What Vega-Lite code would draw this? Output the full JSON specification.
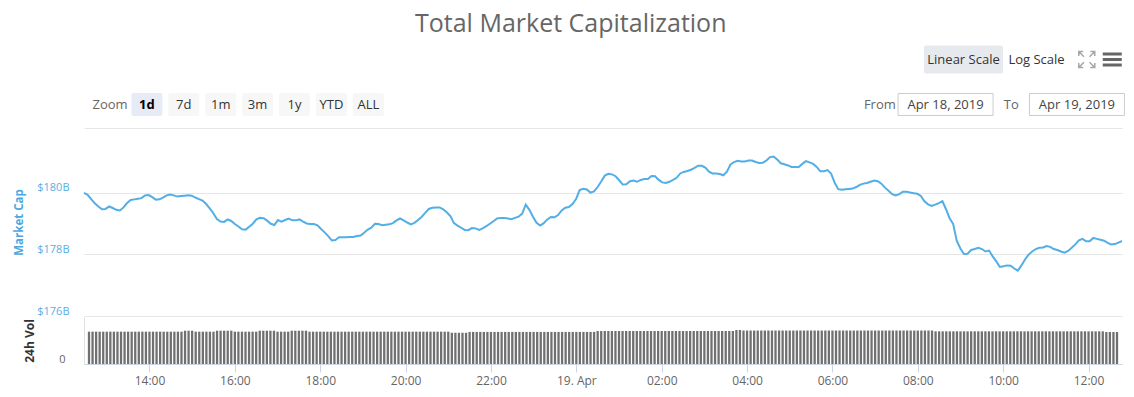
{
  "$schema": "https://vega.github.io/schema/vega-lite/v6.json",
  "padding": {"left": 13, "top": 12, "right": 10, "bottom": 5},
  "bounds": "flush",
  "spacing": 1,
  "title": {"text": "Total Market Capitalization", "fontSize": 25, "font": "Open Sans", "fontWeight": "normal", "color": "#666666", "anchor": "middle", "offset": 0},
  "config": {
    "font": "Open Sans",
    "view": {"stroke": null},
    "axis": {"labelFont": "Open Sans", "titleFont": "Open Sans"},
    "text": {"font": "Open Sans"}
  },
  "data": {"values": [
      {"t":"2019-04-18T12:35","c":179.99,"v":56.4},{"t":"2019-04-18T12:40","c":179.93,"v":56.4},{"t":"2019-04-18T12:45","c":179.79,"v":56.4},{"t":"2019-04-18T12:50","c":179.65,"v":56.4},{"t":"2019-04-18T12:55","c":179.55,"v":56.4},
      {"t":"2019-04-18T13:00","c":179.46,"v":56.4},{"t":"2019-04-18T13:05","c":179.47,"v":56.4},{"t":"2019-04-18T13:10","c":179.55,"v":56.4},{"t":"2019-04-18T13:15","c":179.50,"v":56.4},{"t":"2019-04-18T13:20","c":179.44,"v":56.4},{"t":"2019-04-18T13:25","c":179.42,"v":56.4},{"t":"2019-04-18T13:30","c":179.52,"v":56.4},{"t":"2019-04-18T13:35","c":179.66,"v":56.4},{"t":"2019-04-18T13:40","c":179.76,"v":56.4},{"t":"2019-04-18T13:45","c":179.78,"v":56.4},{"t":"2019-04-18T13:50","c":179.80,"v":56.4},{"t":"2019-04-18T13:55","c":179.82,"v":56.4},
      {"t":"2019-04-18T14:00","c":179.91,"v":56.4},{"t":"2019-04-18T14:05","c":179.92,"v":56.4},{"t":"2019-04-18T14:10","c":179.85,"v":56.4},{"t":"2019-04-18T14:15","c":179.77,"v":56.4},{"t":"2019-04-18T14:20","c":179.78,"v":56.4},{"t":"2019-04-18T14:25","c":179.84,"v":56.4},{"t":"2019-04-18T14:30","c":179.91,"v":56.4},{"t":"2019-04-18T14:35","c":179.94,"v":56.4},{"t":"2019-04-18T14:40","c":179.91,"v":56.4},{"t":"2019-04-18T14:45","c":179.87,"v":56.4},{"t":"2019-04-18T14:50","c":179.89,"v":58.1},{"t":"2019-04-18T14:55","c":179.90,"v":58.1},
      {"t":"2019-04-18T15:00","c":179.91,"v":58.1},{"t":"2019-04-18T15:05","c":179.90,"v":56.4},{"t":"2019-04-18T15:10","c":179.84,"v":56.4},{"t":"2019-04-18T15:15","c":179.79,"v":56.4},{"t":"2019-04-18T15:20","c":179.74,"v":56.4},{"t":"2019-04-18T15:25","c":179.63,"v":56.4},{"t":"2019-04-18T15:30","c":179.49,"v":56.4},{"t":"2019-04-18T15:35","c":179.33,"v":58.1},{"t":"2019-04-18T15:40","c":179.14,"v":58.1},{"t":"2019-04-18T15:45","c":179.06,"v":58.1},{"t":"2019-04-18T15:50","c":179.05,"v":58.1},{"t":"2019-04-18T15:55","c":179.13,"v":58.1},
      {"t":"2019-04-18T16:00","c":179.08,"v":56.4},{"t":"2019-04-18T16:05","c":178.98,"v":56.4},{"t":"2019-04-18T16:10","c":178.90,"v":56.4},{"t":"2019-04-18T16:15","c":178.81,"v":56.4},{"t":"2019-04-18T16:20","c":178.80,"v":56.4},{"t":"2019-04-18T16:25","c":178.89,"v":56.4},{"t":"2019-04-18T16:30","c":178.99,"v":56.4},{"t":"2019-04-18T16:35","c":179.13,"v":58.1},{"t":"2019-04-18T16:40","c":179.18,"v":58.1},{"t":"2019-04-18T16:45","c":179.17,"v":58.1},{"t":"2019-04-18T16:50","c":179.09,"v":58.1},{"t":"2019-04-18T16:55","c":178.99,"v":58.1},
      {"t":"2019-04-18T17:00","c":178.95,"v":56.4},{"t":"2019-04-18T17:05","c":179.11,"v":56.4},{"t":"2019-04-18T17:10","c":179.06,"v":56.4},{"t":"2019-04-18T17:15","c":179.11,"v":56.4},{"t":"2019-04-18T17:20","c":179.16,"v":58.1},{"t":"2019-04-18T17:25","c":179.10,"v":58.1},{"t":"2019-04-18T17:30","c":179.10,"v":58.1},{"t":"2019-04-18T17:35","c":179.13,"v":58.1},{"t":"2019-04-18T17:40","c":179.06,"v":58.1},{"t":"2019-04-18T17:45","c":179.00,"v":56.4},{"t":"2019-04-18T17:50","c":178.98,"v":56.4},{"t":"2019-04-18T17:55","c":178.98,"v":56.4},
      {"t":"2019-04-18T18:00","c":178.94,"v":56.4},{"t":"2019-04-18T18:05","c":178.82,"v":56.4},{"t":"2019-04-18T18:10","c":178.71,"v":56.4},{"t":"2019-04-18T18:15","c":178.59,"v":56.4},{"t":"2019-04-18T18:20","c":178.45,"v":56.4},{"t":"2019-04-18T18:25","c":178.46,"v":56.4},{"t":"2019-04-18T18:30","c":178.55,"v":56.4},{"t":"2019-04-18T18:35","c":178.55,"v":56.4},{"t":"2019-04-18T18:40","c":178.55,"v":56.4},{"t":"2019-04-18T18:45","c":178.56,"v":56.4},{"t":"2019-04-18T18:50","c":178.56,"v":56.4},{"t":"2019-04-18T18:55","c":178.59,"v":56.4},
      {"t":"2019-04-18T19:00","c":178.61,"v":56.4},{"t":"2019-04-18T19:05","c":178.70,"v":56.4},{"t":"2019-04-18T19:10","c":178.80,"v":56.4},{"t":"2019-04-18T19:15","c":178.86,"v":56.4},{"t":"2019-04-18T19:20","c":178.99,"v":56.4},{"t":"2019-04-18T19:25","c":178.98,"v":56.4},{"t":"2019-04-18T19:30","c":178.94,"v":56.4},{"t":"2019-04-18T19:35","c":178.96,"v":56.4},{"t":"2019-04-18T19:40","c":178.97,"v":56.4},{"t":"2019-04-18T19:45","c":179.01,"v":56.4},{"t":"2019-04-18T19:50","c":179.10,"v":56.4},{"t":"2019-04-18T19:55","c":179.16,"v":56.4},
      {"t":"2019-04-18T20:00","c":179.10,"v":56.4},{"t":"2019-04-18T20:05","c":179.03,"v":56.4},{"t":"2019-04-18T20:10","c":178.97,"v":56.4},{"t":"2019-04-18T20:15","c":179.02,"v":56.4},{"t":"2019-04-18T20:20","c":179.11,"v":56.4},{"t":"2019-04-18T20:25","c":179.21,"v":56.4},{"t":"2019-04-18T20:30","c":179.34,"v":56.4},{"t":"2019-04-18T20:35","c":179.47,"v":56.4},{"t":"2019-04-18T20:40","c":179.51,"v":56.4},{"t":"2019-04-18T20:45","c":179.52,"v":56.4},{"t":"2019-04-18T20:50","c":179.52,"v":56.4},{"t":"2019-04-18T20:55","c":179.46,"v":56.4},
      {"t":"2019-04-18T21:00","c":179.36,"v":56.4},{"t":"2019-04-18T21:05","c":179.24,"v":54.5},{"t":"2019-04-18T21:10","c":179.01,"v":54.5},{"t":"2019-04-18T21:15","c":178.93,"v":54.5},{"t":"2019-04-18T21:20","c":178.86,"v":54.5},{"t":"2019-04-18T21:25","c":178.79,"v":54.5},{"t":"2019-04-18T21:30","c":178.78,"v":56.0},{"t":"2019-04-18T21:35","c":178.85,"v":56.0},{"t":"2019-04-18T21:40","c":178.84,"v":56.0},{"t":"2019-04-18T21:45","c":178.79,"v":56.0},{"t":"2019-04-18T21:50","c":178.84,"v":56.0},{"t":"2019-04-18T21:55","c":178.91,"v":56.0},
      {"t":"2019-04-18T22:00","c":178.99,"v":56.0},{"t":"2019-04-18T22:05","c":179.07,"v":56.0},{"t":"2019-04-18T22:10","c":179.16,"v":56.0},{"t":"2019-04-18T22:15","c":179.18,"v":56.0},{"t":"2019-04-18T22:20","c":179.18,"v":56.0},{"t":"2019-04-18T22:25","c":179.16,"v":56.0},{"t":"2019-04-18T22:30","c":179.14,"v":56.0},{"t":"2019-04-18T22:35","c":179.18,"v":56.0},{"t":"2019-04-18T22:40","c":179.22,"v":56.0},{"t":"2019-04-18T22:45","c":179.32,"v":56.0},{"t":"2019-04-18T22:50","c":179.61,"v":56.0},{"t":"2019-04-18T22:55","c":179.44,"v":56.0},
      {"t":"2019-04-18T23:00","c":179.22,"v":56.0},{"t":"2019-04-18T23:05","c":179.02,"v":56.0},{"t":"2019-04-18T23:10","c":178.93,"v":56.0},{"t":"2019-04-18T23:15","c":179.01,"v":56.0},{"t":"2019-04-18T23:20","c":179.13,"v":56.0},{"t":"2019-04-18T23:25","c":179.21,"v":56.0},{"t":"2019-04-18T23:30","c":179.20,"v":56.0},{"t":"2019-04-18T23:35","c":179.27,"v":56.0},{"t":"2019-04-18T23:40","c":179.42,"v":56.0},{"t":"2019-04-18T23:45","c":179.51,"v":56.0},{"t":"2019-04-18T23:50","c":179.53,"v":56.0},{"t":"2019-04-18T23:55","c":179.63,"v":56.0},
      {"t":"2019-04-19T00:00","c":179.79,"v":56.0},{"t":"2019-04-19T00:05","c":180.08,"v":56.0},{"t":"2019-04-19T00:10","c":180.12,"v":56.0},{"t":"2019-04-19T00:15","c":180.10,"v":56.0},{"t":"2019-04-19T00:20","c":180.00,"v":56.0},{"t":"2019-04-19T00:25","c":180.04,"v":56.0},{"t":"2019-04-19T00:30","c":180.18,"v":57.6},{"t":"2019-04-19T00:35","c":180.36,"v":57.6},{"t":"2019-04-19T00:40","c":180.55,"v":57.6},{"t":"2019-04-19T00:45","c":180.61,"v":57.6},{"t":"2019-04-19T00:50","c":180.59,"v":57.6},{"t":"2019-04-19T00:55","c":180.53,"v":57.6},
      {"t":"2019-04-19T01:00","c":180.40,"v":57.6},{"t":"2019-04-19T01:05","c":180.26,"v":57.6},{"t":"2019-04-19T01:10","c":180.27,"v":57.6},{"t":"2019-04-19T01:15","c":180.37,"v":57.6},{"t":"2019-04-19T01:20","c":180.39,"v":57.6},{"t":"2019-04-19T01:25","c":180.35,"v":57.6},{"t":"2019-04-19T01:30","c":180.41,"v":57.6},{"t":"2019-04-19T01:35","c":180.44,"v":57.6},{"t":"2019-04-19T01:40","c":180.44,"v":57.6},{"t":"2019-04-19T01:45","c":180.54,"v":57.6},{"t":"2019-04-19T01:50","c":180.53,"v":57.6},{"t":"2019-04-19T01:55","c":180.41,"v":57.6},
      {"t":"2019-04-19T02:00","c":180.33,"v":57.6},{"t":"2019-04-19T02:05","c":180.31,"v":57.6},{"t":"2019-04-19T02:10","c":180.35,"v":57.6},{"t":"2019-04-19T02:15","c":180.41,"v":57.6},{"t":"2019-04-19T02:20","c":180.48,"v":57.6},{"t":"2019-04-19T02:25","c":180.62,"v":57.6},{"t":"2019-04-19T02:30","c":180.67,"v":57.6},{"t":"2019-04-19T02:35","c":180.70,"v":57.6},{"t":"2019-04-19T02:40","c":180.74,"v":57.6},{"t":"2019-04-19T02:45","c":180.80,"v":57.6},{"t":"2019-04-19T02:50","c":180.87,"v":57.6},{"t":"2019-04-19T02:55","c":180.87,"v":57.6},
      {"t":"2019-04-19T03:00","c":180.81,"v":57.6},{"t":"2019-04-19T03:05","c":180.68,"v":57.6},{"t":"2019-04-19T03:10","c":180.62,"v":57.6},{"t":"2019-04-19T03:15","c":180.62,"v":57.6},{"t":"2019-04-19T03:20","c":180.60,"v":57.6},{"t":"2019-04-19T03:25","c":180.56,"v":57.6},{"t":"2019-04-19T03:30","c":180.68,"v":57.6},{"t":"2019-04-19T03:35","c":180.91,"v":57.6},{"t":"2019-04-19T03:40","c":180.99,"v":57.6},{"t":"2019-04-19T03:45","c":181.03,"v":59.3},{"t":"2019-04-19T03:50","c":181.01,"v":59.3},{"t":"2019-04-19T03:55","c":181.01,"v":58.4},
      {"t":"2019-04-19T04:00","c":181.04,"v":58.4},{"t":"2019-04-19T04:05","c":181.04,"v":58.4},{"t":"2019-04-19T04:10","c":180.99,"v":58.4},{"t":"2019-04-19T04:15","c":180.96,"v":58.4},{"t":"2019-04-19T04:20","c":180.97,"v":58.4},{"t":"2019-04-19T04:25","c":181.04,"v":58.4},{"t":"2019-04-19T04:30","c":181.15,"v":58.4},{"t":"2019-04-19T04:35","c":181.17,"v":58.4},{"t":"2019-04-19T04:40","c":181.07,"v":58.4},{"t":"2019-04-19T04:45","c":180.95,"v":58.4},{"t":"2019-04-19T04:50","c":180.92,"v":58.4},{"t":"2019-04-19T04:55","c":180.88,"v":58.4},
      {"t":"2019-04-19T05:00","c":180.83,"v":58.4},{"t":"2019-04-19T05:05","c":180.83,"v":58.4},{"t":"2019-04-19T05:10","c":180.83,"v":58.4},{"t":"2019-04-19T05:15","c":180.93,"v":58.4},{"t":"2019-04-19T05:20","c":181.02,"v":58.4},{"t":"2019-04-19T05:25","c":180.98,"v":58.4},{"t":"2019-04-19T05:30","c":180.93,"v":58.4},{"t":"2019-04-19T05:35","c":180.83,"v":58.4},{"t":"2019-04-19T05:40","c":180.69,"v":58.4},{"t":"2019-04-19T05:45","c":180.69,"v":58.4},{"t":"2019-04-19T05:50","c":180.73,"v":58.4},{"t":"2019-04-19T05:55","c":180.62,"v":58.4},
      {"t":"2019-04-19T06:00","c":180.32,"v":58.4},{"t":"2019-04-19T06:05","c":180.11,"v":58.4},{"t":"2019-04-19T06:10","c":180.09,"v":58.4},{"t":"2019-04-19T06:15","c":180.11,"v":58.4},{"t":"2019-04-19T06:20","c":180.12,"v":58.4},{"t":"2019-04-19T06:25","c":180.13,"v":58.4},{"t":"2019-04-19T06:30","c":180.18,"v":58.4},{"t":"2019-04-19T06:35","c":180.25,"v":58.4},{"t":"2019-04-19T06:40","c":180.29,"v":58.4},{"t":"2019-04-19T06:45","c":180.31,"v":58.4},{"t":"2019-04-19T06:50","c":180.35,"v":58.4},{"t":"2019-04-19T06:55","c":180.39,"v":58.4},
      {"t":"2019-04-19T07:00","c":180.37,"v":58.4},{"t":"2019-04-19T07:05","c":180.29,"v":58.4},{"t":"2019-04-19T07:10","c":180.16,"v":58.4},{"t":"2019-04-19T07:15","c":180.06,"v":58.4},{"t":"2019-04-19T07:20","c":179.95,"v":58.4},{"t":"2019-04-19T07:25","c":179.91,"v":58.4},{"t":"2019-04-19T07:30","c":179.95,"v":58.4},{"t":"2019-04-19T07:35","c":180.03,"v":58.4},{"t":"2019-04-19T07:40","c":180.03,"v":58.4},{"t":"2019-04-19T07:45","c":180.00,"v":58.4},{"t":"2019-04-19T07:50","c":179.98,"v":58.4},{"t":"2019-04-19T07:55","c":179.96,"v":58.4},
      {"t":"2019-04-19T08:00","c":179.89,"v":58.4},{"t":"2019-04-19T08:05","c":179.72,"v":58.4},{"t":"2019-04-19T08:10","c":179.62,"v":58.4},{"t":"2019-04-19T08:15","c":179.57,"v":58.4},{"t":"2019-04-19T08:20","c":179.61,"v":58.4},{"t":"2019-04-19T08:25","c":179.66,"v":57.0},{"t":"2019-04-19T08:30","c":179.72,"v":57.0},{"t":"2019-04-19T08:35","c":179.46,"v":57.0},{"t":"2019-04-19T08:40","c":179.17,"v":57.0},{"t":"2019-04-19T08:45","c":178.98,"v":57.0},{"t":"2019-04-19T08:50","c":178.43,"v":57.0},{"t":"2019-04-19T08:55","c":178.19,"v":57.0},
      {"t":"2019-04-19T09:00","c":178.01,"v":57.0},{"t":"2019-04-19T09:05","c":178.02,"v":57.0},{"t":"2019-04-19T09:10","c":178.14,"v":57.0},{"t":"2019-04-19T09:15","c":178.17,"v":57.0},{"t":"2019-04-19T09:20","c":178.21,"v":57.0},{"t":"2019-04-19T09:25","c":178.17,"v":57.0},{"t":"2019-04-19T09:30","c":178.09,"v":57.0},{"t":"2019-04-19T09:35","c":178.12,"v":57.0},{"t":"2019-04-19T09:40","c":177.93,"v":57.0},{"t":"2019-04-19T09:45","c":177.77,"v":57.0},{"t":"2019-04-19T09:50","c":177.59,"v":57.0},{"t":"2019-04-19T09:55","c":177.61,"v":57.0},
      {"t":"2019-04-19T10:00","c":177.64,"v":57.0},{"t":"2019-04-19T10:05","c":177.63,"v":57.0},{"t":"2019-04-19T10:10","c":177.54,"v":57.0},{"t":"2019-04-19T10:15","c":177.47,"v":57.0},{"t":"2019-04-19T10:20","c":177.64,"v":57.0},{"t":"2019-04-19T10:25","c":177.83,"v":57.0},{"t":"2019-04-19T10:30","c":177.99,"v":57.0},{"t":"2019-04-19T10:35","c":178.09,"v":57.0},{"t":"2019-04-19T10:40","c":178.17,"v":57.0},{"t":"2019-04-19T10:45","c":178.21,"v":57.0},{"t":"2019-04-19T10:50","c":178.22,"v":57.0},{"t":"2019-04-19T10:55","c":178.27,"v":57.0},
      {"t":"2019-04-19T11:00","c":178.24,"v":57.0},{"t":"2019-04-19T11:05","c":178.17,"v":57.0},{"t":"2019-04-19T11:10","c":178.14,"v":57.0},{"t":"2019-04-19T11:15","c":178.09,"v":57.0},{"t":"2019-04-19T11:20","c":178.05,"v":57.0},{"t":"2019-04-19T11:25","c":178.11,"v":57.0},{"t":"2019-04-19T11:30","c":178.21,"v":57.0},{"t":"2019-04-19T11:35","c":178.32,"v":57.0},{"t":"2019-04-19T11:40","c":178.45,"v":57.0},{"t":"2019-04-19T11:45","c":178.50,"v":57.0},{"t":"2019-04-19T11:50","c":178.42,"v":57.0},{"t":"2019-04-19T11:55","c":178.42,"v":57.0},
      {"t":"2019-04-19T12:00","c":178.53,"v":57.0},{"t":"2019-04-19T12:05","c":178.50,"v":57.0},{"t":"2019-04-19T12:10","c":178.47,"v":57.0},{"t":"2019-04-19T12:15","c":178.44,"v":57.0},{"t":"2019-04-19T12:20","c":178.37,"v":57.0},{"t":"2019-04-19T12:25","c":178.32,"v":55.8},{"t":"2019-04-19T12:30","c":178.33,"v":55.8},{"t":"2019-04-19T12:35","c":178.38,"v":55.8},{"t":"2019-04-19T12:40","c":178.43,"v":55.8}
  ]},
  "vconcat": [
    {
      "spacing": 0,
      "vconcat": [
        {
          "spacing": 1,
          "hconcat": [
            {"width": 839, "height": 45, "data": {"values": []}, "mark": "point"},
            {
              "width": 146, "height": 45,
              "data": {"values": [
                {"label": "Linear Scale", "state": "selected", "row": "r"},
                {"label": "Log Scale", "state": "normal", "row": "r"}
              ]},
              "encoding": {
                "x": {"field": "label", "type": "nominal", "axis": null, "sort": null, "scale": {"type": "band", "paddingInner": 0, "paddingOuter": 0, "round": false}},
                "y": {"field": "row", "type": "nominal", "axis": null, "scale": {"type": "band", "paddingInner": 0, "paddingOuter": 0, "round": false}}
              },
              "layer": [
                {"transform": [{"filter": "datum.state === 'selected'"}], "mark": {"type": "bar", "width": 79, "height": 28, "color": "#e6e9ed", "cornerRadius": 2}},
                {"mark": {"type": "text", "fontSize": 13, "color": "#333333"}, "encoding": {"text": {"field": "label"}}}
              ]
            },
            {
              "width": 51, "height": 45,
              "data": {"values": [
                {"icon": "expand", "row": "r"},
                {"icon": "menu", "row": "r"}
              ]},
              "encoding": {
                "x": {"field": "icon", "type": "nominal", "axis": null, "sort": null, "scale": {"type": "band", "paddingInner": 0, "paddingOuter": 0, "round": false}},
                "y": {"field": "row", "type": "nominal", "axis": null, "scale": {"type": "band", "paddingInner": 0, "paddingOuter": 0, "round": false}}
              },
              "layer": [
                {"transform": [{"filter": "datum.icon === 'expand'"}], "mark": {"type": "point", "shape": "M-0.35,-0.35L-1,-1M-1,-0.45V-1H-0.45M0.35,-0.35L1,-1M0.45,-1H1V-0.45M-0.35,0.35L-1,1M-1,0.45V1H-0.45M0.35,0.35L1,1M0.45,1H1V0.45", "size": 256, "filled": false, "color": "#a6a6a6", "strokeWidth": 1.5, "opacity": 1}},
                {"transform": [{"filter": "datum.icon === 'menu'"}], "mark": {"type": "point", "shape": "M-1,-0.58H1M-1,0H1M-1,0.58H1", "size": 361, "filled": false, "color": "#666666", "strokeWidth": 3, "opacity": 1}}
              ]
            }
          ]
        },
        {
          "spacing": 452,
          "hconcat": [
            {
              "width": 310.3, "height": 45,
              "data": {"values": [
                {"label": "Zoom", "state": "label", "row": "r"},
                {"label": "1d", "state": "selected", "row": "r"},
                {"label": "7d", "state": "normal", "row": "r"},
                {"label": "1m", "state": "normal", "row": "r"},
                {"label": "3m", "state": "normal", "row": "r"},
                {"label": "1y", "state": "normal", "row": "r"},
                {"label": "YTD", "state": "normal", "row": "r"},
                {"label": "ALL", "state": "normal", "row": "r"}
              ]},
              "encoding": {
                "x": {"field": "label", "type": "nominal", "axis": null, "sort": null, "scale": {"type": "band", "domain": ["Zoom", "1d", "7d", "1m", "3m", "1y", "YTD", "ALL"], "paddingInner": 0, "paddingOuter": 0.2046, "round": false}},
                "y": {"field": "row", "type": "nominal", "axis": null, "scale": {"type": "band", "paddingInner": 0, "paddingOuter": 0, "round": false}}
              },
              "layer": [
                {"transform": [{"filter": "datum.state === 'selected'"}], "mark": {"type": "bar", "width": 31, "height": 23, "color": "#e6ebf5", "cornerRadius": 2}},
                {"transform": [{"filter": "datum.state === 'normal'"}], "mark": {"type": "bar", "width": 31, "height": 23, "color": "#f7f7f7", "cornerRadius": 2}},
                {"transform": [{"filter": "datum.state === 'label'"}], "mark": {"type": "text", "fontSize": 13, "color": "#666666"}, "encoding": {"text": {"field": "label"}}},
                {"transform": [{"filter": "datum.state === 'normal'"}], "mark": {"type": "text", "fontSize": 13, "color": "#333333"}, "encoding": {"text": {"field": "label"}}},
                {"transform": [{"filter": "datum.state === 'selected'"}], "mark": {"type": "text", "fontSize": 13, "fontWeight": "bold", "color": "#000000"}, "encoding": {"text": {"field": "label"}}}
              ]
            },
            {
              "width": 262.8, "height": 45,
              "data": {"values": [
                {"label": "From", "kind": "label", "row": "r"},
                {"label": "Apr 18, 2019", "kind": "box", "row": "r"},
                {"label": "To", "kind": "label", "row": "r"},
                {"label": "Apr 19, 2019", "kind": "box", "row": "r"}
              ]},
              "encoding": {
                "x": {"field": "label", "type": "nominal", "axis": null, "sort": null, "scale": {"type": "band", "domain": ["From", "Apr 18, 2019", "To", "Apr 19, 2019"], "paddingInner": 0, "paddingOuter": 0, "round": false}},
                "y": {"field": "row", "type": "nominal", "axis": null, "scale": {"type": "band", "paddingInner": 0, "paddingOuter": 0, "round": false}}
              },
              "layer": [
                {"transform": [{"filter": "datum.kind === 'box'"}], "mark": {"type": "bar", "width": 95, "height": 22, "fill": "#ffffff", "stroke": "#cccccc", "strokeWidth": 1}},
                {"transform": [{"filter": "datum.kind === 'label'"}], "mark": {"type": "text", "fontSize": 13, "color": "#666666"}, "encoding": {"text": {"field": "label"}}},
                {"transform": [{"filter": "datum.kind === 'box'"}], "mark": {"type": "text", "fontSize": 13, "color": "#444444"}, "encoding": {"text": {"field": "label"}}}
              ]
            }
          ]
        }
      ]
    },
    {
      "width": 1038,
      "height": 278,
      "mark": {"type": "line", "color": "#52aee6", "strokeWidth": 2},
      "encoding": {
        "x": {"field": "t", "type": "temporal", "axis": null, "scale": {"nice": false}},
        "y": {
          "field": "c", "type": "quantitative",
          "scale": {"domain": [176, 185.01], "nice": false, "zero": false},
          "axis": {
            "values": [176, 178, 180, 182.1],
            "labelExpr": "datum.value > 181 ? '' : '$' + datum.value + 'B'",
            "title": "Market Cap",
            "grid": true, "gridColor": "#e6e6e6", "domain": false, "ticks": false,
            "labelColor": "#58b0e3", "labelFontSize": 11, "labelBaseline": "bottom", "labelPadding": 15,
            "titleColor": "#4aa8e0", "titleFontSize": 11.5, "titleFontWeight": "bold", "titlePadding": 12, "titleY": 184
          }
        }
      }
    },
    {
      "width": 1038,
      "height": 47,
      "mark": {"type": "bar", "color": "#707070", "width": 2.3},
      "encoding": {
        "x": {
          "field": "t", "type": "temporal", "scale": {"nice": false},
          "axis": {
            "title": null, "grid": false,
            "values": [
              {"year": 2019, "month": 4, "date": 18, "hours": 14},
              {"year": 2019, "month": 4, "date": 18, "hours": 16},
              {"year": 2019, "month": 4, "date": 18, "hours": 18},
              {"year": 2019, "month": 4, "date": 18, "hours": 20},
              {"year": 2019, "month": 4, "date": 18, "hours": 22},
              {"year": 2019, "month": 4, "date": 19, "hours": 0},
              {"year": 2019, "month": 4, "date": 19, "hours": 2},
              {"year": 2019, "month": 4, "date": 19, "hours": 4},
              {"year": 2019, "month": 4, "date": 19, "hours": 6},
              {"year": 2019, "month": 4, "date": 19, "hours": 8},
              {"year": 2019, "month": 4, "date": 19, "hours": 10},
              {"year": 2019, "month": 4, "date": 19, "hours": 12}
            ],
            "labelExpr": "hours(datum.value) == 0 ? timeFormat(datum.value, '%d. %b') : timeFormat(datum.value, '%H:%M')",
            "domainColor": "#ccd6eb", "tickColor": "#ccd6eb", "tickSize": 8,
            "labelColor": "#666666", "labelFontSize": 12, "labelPadding": 3
          }
        },
        "y": {
          "field": "v", "type": "quantitative",
          "scale": {"domain": [0, 82], "nice": false},
          "axis": {
            "values": [0], "title": "24h Vol", "grid": false,
            "domain": true, "domainColor": "#e0e0e0", "ticks": false,
            "labelColor": "#666666", "labelFontSize": 11, "labelBaseline": "bottom", "labelPadding": 19,
            "titleColor": "#333333", "titleFontSize": 12, "titleFontWeight": "bold", "titlePadding": 22
          }
        }
      }
    }
  ]
}
